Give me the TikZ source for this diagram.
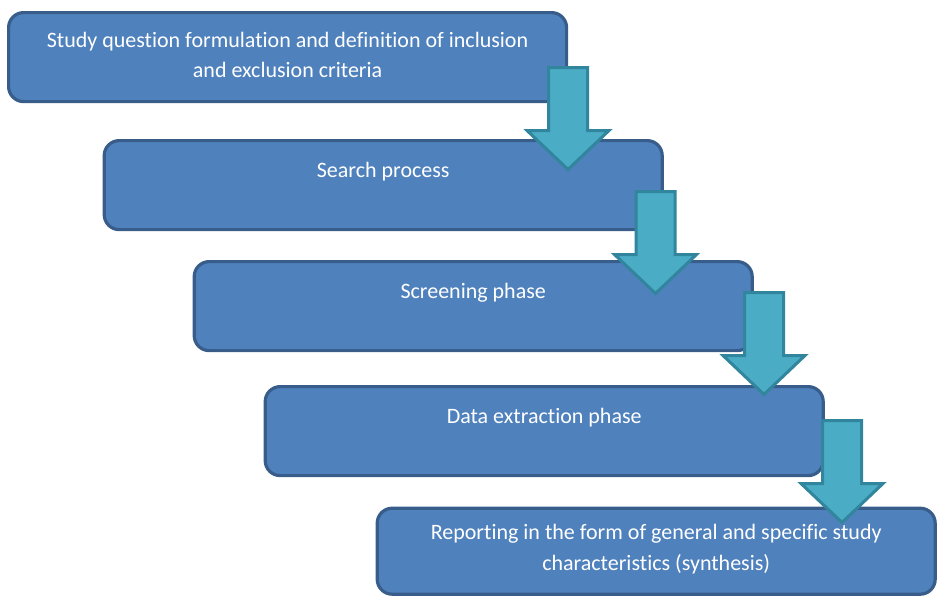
\documentclass[tikz,border=0pt]{standalone}
\usepackage{fontspec}
\setmainfont{Carlito}[Ligatures={NoCommon}]
\definecolor{boxfill}{HTML}{4F81BD}
\definecolor{boxline}{HTML}{385D8A}
\definecolor{arrfill}{HTML}{4BACC6}
\definecolor{arrline}{HTML}{31859C}
\begin{document}
\begin{tikzpicture}[x=1pt,y=-1pt,
  box/.style={draw=boxline, fill=boxfill, line width=3.2pt, rounded corners=15pt,
    anchor=north west, inner sep=0pt, minimum height=89pt, minimum width=558pt},
  txt/.style={text=white, font=\fontsize{22}{30.5}\selectfont, align=center, inner sep=0pt},
  arr/.style={draw=arrline, fill=arrfill, line width=3pt, line join=miter},
  barrow/.pic={\path[arr] (-19.5,0) -- (19.5,0) -- (19.5,63) -- (41,63) -- (0,102) -- (-41,63) -- (-19.5,63) -- cycle;}
]
\useasboundingbox (0,0) rectangle (942,595);
\node[box] (b1) at (7.0,11.0) {};
\node[box] (b2) at (102.6,139.0) {};
\node[box] (b3) at (192.6,260.0) {};
\node[box] (b4) at (263.6,385.0) {};
\node[box, minimum height=86pt] (b5) at (375.6,506.6) {};
\node[txt, yshift=2pt] (t1) at (b1.center) {Study question formulation and definition of inclusion\\and exclusion criteria};
\node[txt, yshift=13pt] (t2) at (b2.center) {Search process};
\node[txt, yshift=13pt] (t3) at (b3.center) {Screening phase};
\node[txt, yshift=13pt] (t4) at (b4.center) {Data extraction phase};
\node[txt, yshift=2pt] (t5) at (b5.center) {Reporting in the form of general and specific study\\characteristics (synthesis)};
\pic at (568,67.5) {barrow};
\pic at (655.5,191.5) {barrow};
\pic at (764,292.5) {barrow};
\pic at (842,420.5) {barrow};
\end{tikzpicture}
\end{document}
